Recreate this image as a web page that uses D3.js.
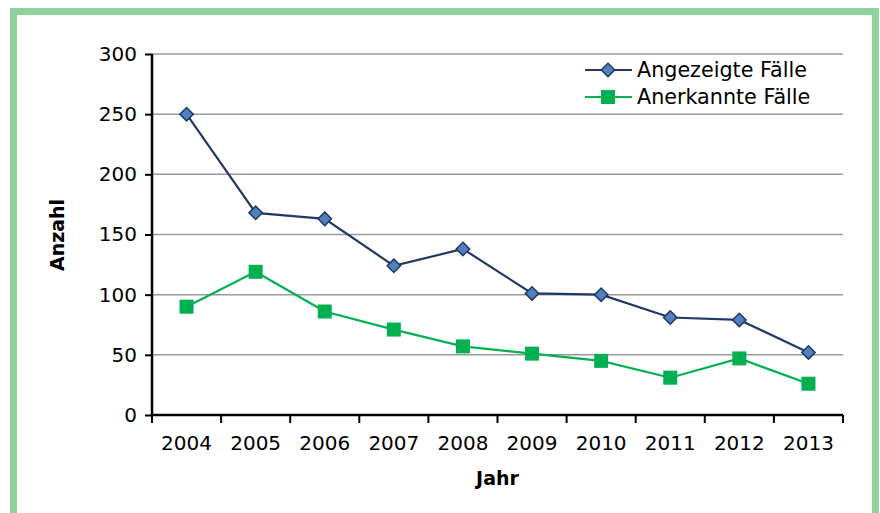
<!DOCTYPE html>
<html><head><meta charset="utf-8">
<script src="https://cdn.jsdelivr.net/npm/d3@7"></script>
<style>body{margin:0;background:#fff}svg{display:block}</style>
</head><body>
<script>
const years = ["2004","2005","2006","2007","2008","2009","2010","2011","2012","2013"];
const angezeigt = [250,168,163,124,138,101,100,81,79,52];
const anerkannt = [90,119,86,71,57,51,45,31,47,26];
const yTicks = [0,50,100,150,200,250,300];
const seriesNames = ["Angezeigte Fälle","Anerkannte Fälle"];

const W=880,H=513;
const svg=d3.select("body").append("svg").attr("width",W).attr("height",H);
const font="DejaVu Sans";
// border
svg.append("rect").attr("x",13.5).attr("y",11.5).attr("width",862).attr("height",520)
  .attr("fill","none").attr("stroke","#8fd19a").attr("stroke-width",7);

const L=152,R=843,T=54,B=415;
const x=d3.scaleBand().domain(years).range([L,R]);
const y=d3.scaleLinear().domain([0,300]).range([B,T]);

// gridlines
svg.append("g").selectAll("line").data(yTicks.filter(d=>d>0)).join("line")
  .attr("x1",L).attr("x2",R).attr("y1",d=>y(d)).attr("y2",d=>y(d))
  .attr("stroke","#999").attr("stroke-width",1.5);

// y axis
const ya=svg.append("g").attr("transform",`translate(${L},0)`)
  .call(d3.axisLeft(y).tickValues(yTicks).tickSize(7).tickPadding(8));
ya.select(".domain").attr("stroke","#000").attr("stroke-width",2.5).attr("d",`M0,${T}V${B}`);
ya.selectAll(".tick line").attr("stroke","#000").attr("stroke-width",2);
ya.selectAll("text").attr("font-family",font).attr("font-size",20).attr("fill","#000");

// x axis
const xa=svg.append("g").attr("transform",`translate(0,${B})`)
  .call(d3.axisBottom(x).tickSize(0).tickPadding(21));
xa.select(".domain").attr("stroke","#000").attr("stroke-width",2.5).attr("d",`M${L},0H${R}`);
xa.selectAll("text").attr("font-family",font).attr("font-size",20).attr("fill","#000");
const bounds=years.map(d=>x(d)).concat([R]);
svg.append("g").selectAll("line").data(bounds).join("line")
  .attr("x1",d=>d).attr("x2",d=>d).attr("y1",B).attr("y2",B+8)
  .attr("stroke","#000").attr("stroke-width",2);

const cx=d=>x(d)+x.bandwidth()/2;
const line=d3.line().x((v,i)=>cx(years[i])).y(v=>y(v));

// series 1
svg.append("path").datum(angezeigt).attr("d",line).attr("fill","none")
  .attr("stroke","#1f3864").attr("stroke-width",2.2);
const diamond=d3.symbol().type(d3.symbolSquare).size(90);
svg.append("g").selectAll("path").data(angezeigt).join("path")
  .attr("d",diamond()).attr("transform",(v,i)=>`translate(${cx(years[i])},${y(v)}) rotate(45)`)
  .attr("fill","#4f81bd").attr("stroke","#1f3864").attr("stroke-width",1.5);

// series 2
svg.append("path").datum(anerkannt).attr("d",line).attr("fill","none")
  .attr("stroke","#00b050").attr("stroke-width",2.2);
svg.append("g").selectAll("rect").data(anerkannt).join("rect")
  .attr("x",(v,i)=>cx(years[i])-7).attr("y",v=>y(v)-7).attr("width",14).attr("height",14)
  .attr("fill","#00b050");

// legend
const lg=svg.append("g");
[0,1].forEach(k=>{
  const ly=k===0?70:97;
  lg.append("line").attr("x1",585).attr("x2",632).attr("y1",ly).attr("y2",ly)
    .attr("stroke",k===0?"#1f3864":"#00b050").attr("stroke-width",2.2);
  if(k===0){
    lg.append("path").attr("d",diamond()).attr("transform",`translate(608,${ly}) rotate(45)`)
      .attr("fill","#4f81bd").attr("stroke","#1f3864").attr("stroke-width",1.5);
  } else {
    lg.append("rect").attr("x",601).attr("y",ly-7).attr("width",14).attr("height",14).attr("fill","#00b050");
  }
  lg.append("text").attr("x",637).attr("y",ly+7).attr("font-family",font).attr("font-size",20.7)
    .attr("fill","#000").text(seriesNames[k]);
});

// axis titles
svg.append("text").attr("x",(L+R)/2).attr("y",485).attr("text-anchor","middle")
  .attr("font-family",font).attr("font-weight","bold").attr("font-size",19).text("Jahr");
svg.append("text").attr("transform","translate(64,235) rotate(-90)").attr("text-anchor","middle")
  .attr("font-family",font).attr("font-weight","bold").attr("font-size",19).text("Anzahl");
</script>
</body></html>
